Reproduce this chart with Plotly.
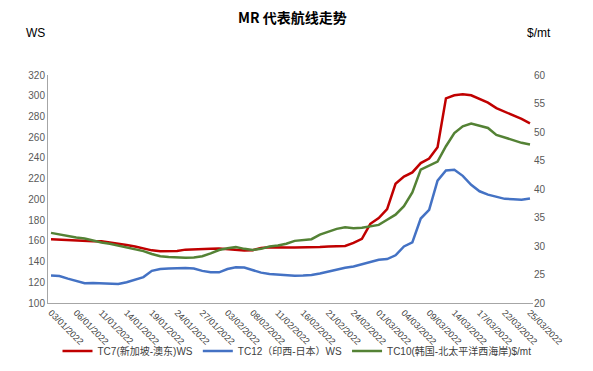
import plotly.graph_objects as go

dates = ["03/01/2022", "04/01/2022", "05/01/2022", "06/01/2022", "07/01/2022", "10/01/2022",
         "11/01/2022", "12/01/2022", "13/01/2022", "14/01/2022", "17/01/2022", "18/01/2022",
         "19/01/2022", "20/01/2022", "21/01/2022", "24/01/2022", "25/01/2022", "26/01/2022",
         "27/01/2022", "28/01/2022", "31/01/2022", "03/02/2022", "04/02/2022", "07/02/2022",
         "08/02/2022", "09/02/2022", "10/02/2022", "11/02/2022", "14/02/2022", "15/02/2022",
         "16/02/2022", "17/02/2022", "18/02/2022", "21/02/2022", "22/02/2022", "23/02/2022",
         "24/02/2022", "25/02/2022", "28/02/2022", "01/03/2022", "02/03/2022", "03/03/2022",
         "04/03/2022", "07/03/2022", "08/03/2022", "09/03/2022", "10/03/2022", "11/03/2022",
         "14/03/2022", "15/03/2022", "16/03/2022", "17/03/2022", "18/03/2022", "21/03/2022",
         "22/03/2022", "23/03/2022", "24/03/2022", "25/03/2022"]

tc7_ws = [161.5, 161, 160.5, 160, 159.5, 159.5, 159.5, 158.5, 157.5, 156,
          154.5, 152.5, 150.8, 150, 149.8, 150.2, 151.5, 152, 152.3, 152.3,
          152.5, 152, 151.5, 150.7, 151, 153, 153.8, 154, 153.6, 153.6,
          153.6, 153.6, 154, 154.6, 154.8, 155, 158, 162, 176.4, 182,
          190.6, 215, 222, 226, 235, 239.4, 250.3, 297.5, 300.4, 301.4,
          300.4, 297, 293.3, 288, 284.4, 281.5, 277.6, 273.4]

tc12_ws = [126.5, 126, 123.5, 121, 119, 119.3, 119, 118.6, 118.3, 120,
           122.5, 125, 131, 132.8, 133.4, 133.7, 133.7, 133.3, 131, 129.6,
           129.6, 132.8, 134.4, 134.2, 131.5, 129.3, 128, 127.3, 126.5, 126.4,
           126.5, 127, 128.5, 130.5, 132.2, 134, 135.3, 137.3, 139.5, 141.8,
           142.4, 146, 154.6, 158.5, 181.5, 189.9, 218, 227.8, 228.5, 222.7,
           214, 207.8, 204.6, 202.3, 200.5, 200.2, 199.6, 200.8]

tc10_usd = [32.3, 32, 31.8, 31.5, 31.3, 30.9, 30.6, 30.4, 30.1, 29.8,
            29.5, 29.1, 28.6, 28.2, 28.05, 27.95, 27.95, 28, 28.2, 28.7,
            29.3, 29.6, 29.8, 29.5, 29.3, 29.5, 29.9, 30.1, 30.4, 30.9,
            31.1, 31.2, 32, 32.5, 33, 33.3, 33.1, 33.2, 33.5, 33.7,
            34.6, 35.5, 37, 39.4, 43.4, 44.1, 44.8, 47.5, 49.8, 51,
            51.5, 51.1, 50.7, 49.5, 49, 48.6, 48.1, 47.8]

tick_labels = dates[::3]

names = ["TC7(新加坡-澳东)WS", "TC12（印西-日本）WS", "TC10(韩国-北太平洋西海岸)$/mt"]
colors = ["#C00000", "#4472C4", "#548235"]

FONT = "Liberation Sans, Noto Sans CJK SC, sans-serif"

# plot area in pixels
L, R, T, B = 48, 533, 75, 303
W, H = 593, 371


def px_x(x):
    return (x - L) / (R - L)


def px_y(y):
    return (B - y) / (B - T)


fig = go.Figure()
fig.add_trace(go.Scatter(x=dates, y=tc7_ws, name=names[0], mode="lines",
                         line=dict(color=colors[0], width=2.5)))
fig.add_trace(go.Scatter(x=dates, y=tc12_ws, name=names[1], mode="lines",
                         line=dict(color=colors[1], width=2.5)))
fig.add_trace(go.Scatter(x=dates, y=tc10_usd, name=names[2], mode="lines", yaxis="y2",
                         line=dict(color=colors[2], width=2.5)))

fig.update_layout(
    width=W, height=H, autosize=False,
    margin=dict(l=L, r=W - R, t=T, b=H - B, pad=0),
    paper_bgcolor="white", plot_bgcolor="white",
    font=dict(family=FONT, size=10, color="#595959"),
    showlegend=True,
    legend=dict(orientation="h", xref="container", yref="container",
                x=297 / W, xanchor="center", y=(H - 351) / H, yanchor="middle",
                font=dict(size=10, color="#404040"), itemwidth=30,
                tracegroupgap=0, bgcolor="rgba(0,0,0,0)"),
    xaxis=dict(type="category", range=[-0.36, 57.36], tickmode="array",
               tickvals=tick_labels, ticktext=tick_labels, tickangle=45,
               showline=True, linecolor="#a6a6a6", linewidth=1, automargin=False,
               showgrid=False, ticks="", tickfont=dict(size=9, color="#404040")),
    yaxis=dict(range=[100, 320], dtick=20, showgrid=False, showline=True, automargin=False,
               linecolor="#a6a6a6", linewidth=1, ticks="", zeroline=False,
               tickfont=dict(size=10, color="#595959")),
    yaxis2=dict(range=[20, 60], dtick=5, overlaying="y", side="right", showgrid=False,
                showline=False, ticks="", zeroline=False, automargin=False,
                tickfont=dict(size=10, color="#595959")),
    annotations=[
        dict(text="<b>MR 代表航线走势</b>", x=px_x(292), y=px_y(17), xref="paper", yref="paper",
             xanchor="center", yanchor="middle", showarrow=False,
             font=dict(family="Noto Sans CJK SC", size=14, color="#000000")),
        dict(text="WS", x=px_x(35), y=px_y(33), xref="paper", yref="paper",
             xanchor="center", yanchor="middle", showarrow=False,
             font=dict(size=12, color="#000000")),
        dict(text="$/mt", x=px_x(539), y=px_y(33), xref="paper", yref="paper",
             xanchor="center", yanchor="middle", showarrow=False,
             font=dict(size=12, color="#000000")),
    ],
)

fig.write_html("out.html", config={"displayModeBar": False},
               post_script="document.body.style.margin='0';document.body.style.padding='0';")
